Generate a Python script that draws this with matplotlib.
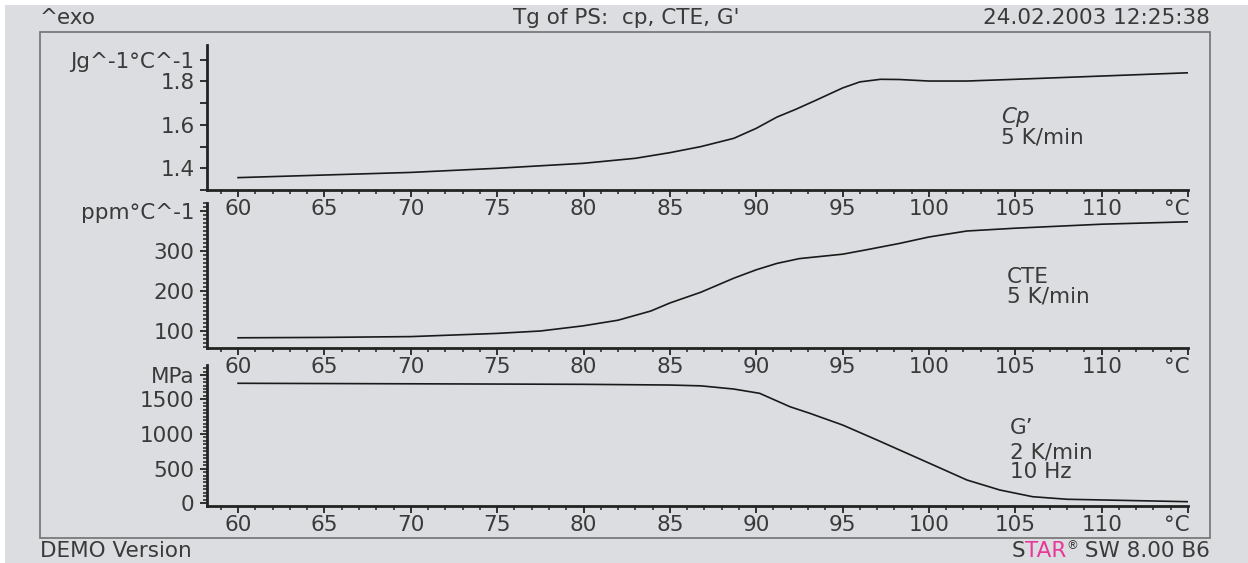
import numpy as np
import matplotlib.pyplot as plt
from matplotlib.patches import Rectangle
from matplotlib.ticker import MultipleLocator, FixedLocator

plt.rcParams['font.family'] = ['DejaVu Sans']

W, H = 1248, 563
bg = '#dcdde0'
tc = '#3a3a3a'
fs = 15.5

# Cp, 5 K/min
t_cp = [60, 65, 70, 75, 80, 83, 85, 86.8, 88.7, 90, 91.2, 92.3, 93.5, 95, 96,
        97.2, 98.3, 100, 102.2, 105, 110, 115]
cp = [1.357, 1.369, 1.381, 1.400, 1.423, 1.446, 1.472, 1.500, 1.538, 1.584, 1.636,
      1.672, 1.715, 1.770, 1.798, 1.810, 1.809, 1.802, 1.802, 1.810, 1.825, 1.840]

# CTE, 5 K/min
t_cte = [60, 65, 70, 75, 77.5, 80, 82, 83.9, 85, 86.8, 88.7, 90, 91.2, 92.5, 95,
         96.5, 98.3, 100, 102.2, 105, 110, 115]
cte = [83, 84, 86, 94, 100, 113, 127, 150, 170, 197, 232, 253, 269, 281, 292,
       304, 319, 335, 350, 357, 367, 373]

# G', 2 K/min, 10 Hz
t_g = [60, 75, 80, 85, 86.8, 88.7, 90.2, 91.95, 93.1, 95, 97, 98.3, 100.25, 102.2,
       104.1, 106, 108, 115]
g = [1732, 1721, 1717, 1707, 1695, 1649, 1587, 1394, 1299, 1130, 913, 769, 553,
     336, 192, 95, 58, 23]

xmaj = list(range(60, 116, 5))
xlab = [str(v) for v in range(60, 111, 5)] + ['']


def fx(x):
    return x / W


def fy(y):
    return 1 - y / H


def panel(top, bottom, ylim):
    ax = fig.add_axes([fx(207), fy(bottom), (1188 - 207) / W, (bottom - top) / H])
    ax.set_facecolor('none')
    ax.spines['top'].set_visible(False)
    ax.spines['right'].set_visible(False)
    for s in ['left', 'bottom']:
        ax.spines[s].set_linewidth(2)
        ax.spines[s].set_color('#222222')
    ax.set_xlim(58.2, 115)
    ax.set_ylim(*ylim)
    ax.xaxis.set_major_locator(FixedLocator(xmaj))
    ax.xaxis.set_minor_locator(MultipleLocator(1))
    ax.set_xticklabels(xlab)
    ax.tick_params(which='major', length=5, width=1.3, color='#222222',
                   labelsize=fs, labelcolor=tc)
    ax.tick_params(which='minor', length=3, width=1.1, color='#222222')
    ax.tick_params(axis='x', which='major', pad=1.5)
    ax.tick_params(axis='y', which='major', pad=4)
    ax.annotate('°C', xy=(115, 0), xycoords=('data', 'axes fraction'),
                xytext=(1, -6.5), textcoords='offset points', ha='right', va='top',
                fontsize=fs, color=tc)
    return ax


fig = plt.figure(figsize=(W / 100, H / 100), dpi=100)
fig.patch.set_facecolor('white')
fig.patches.append(Rectangle((fx(5), 0), 1 - fx(5), fy(5), transform=fig.transFigure,
                             facecolor=bg, edgecolor='none', zorder=-10))
fig.patches.append(Rectangle((fx(40), fy(538)), (1210 - 40) / W, (538 - 32) / H,
                             transform=fig.transFigure, fill=False,
                             edgecolor='#7a7a7a', lw=1.3))

# top: heat capacity
ax1 = panel(45, 190, (1.3, 1.968))
ax1.set_yticks([1.3, 1.4, 1.5, 1.6, 1.7, 1.8, 1.9])
ax1.set_yticklabels(['', '1.4', '', '1.6', '', '1.8', 'Jg^-1°C^-1'])
ax1.plot(t_cp, cp, color='#1a1a1a', lw=1.2)
ax1.text(104.2, 1.636, 'Cp', style='italic', fontsize=fs, color=tc, va='center')
ax1.text(104.2, 1.54, '5 K/min', fontsize=fs, color=tc, va='center')

# middle: expansion coefficient
ax2 = panel(203, 348, (57.5, 420))
ax2.set_yticks([100, 200, 300, 400])
ax2.set_yticklabels(['100', '200', '300', 'ppm°C^-1'])
ax2.yaxis.set_minor_locator(MultipleLocator(10))
ax2.plot(t_cte, cte, color='#1a1a1a', lw=1.2)
ax2.text(104.5, 235, 'CTE', fontsize=fs, color=tc, va='center')
ax2.text(104.5, 185, '5 K/min', fontsize=fs, color=tc, va='center')

# bottom: storage modulus
ax3 = panel(365, 505.5, (-32, 1996))
ax3.set_yticks([0, 500, 1000, 1500, 1850])
ax3.set_yticklabels(['0', '500', '1000', '1500', 'MPa'])
ax3.yaxis.set_minor_locator(MultipleLocator(50))
ax3.plot(t_g, g, color='#1a1a1a', lw=1.2)
ax3.text(104.7, 1087, 'G’', fontsize=fs, color=tc, va='center')
ax3.text(104.7, 740, '2 K/min', fontsize=fs, color=tc, va='center')
ax3.text(104.7, 452, '10 Hz', fontsize=fs, color=tc, va='center')

# header and footer
fig.text(fx(40), fy(18), '^exo', fontsize=fs, color=tc, va='center', ha='left')
fig.text(fx(626), fy(18), "Tg of PS:  cp, CTE, G'", fontsize=fs, color=tc,
         va='center', ha='center')
fig.text(fx(1210), fy(18), '24.02.2003 12:25:38', fontsize=fs, color=tc,
         va='center', ha='right')
fig.text(fx(40), fy(551), 'DEMO Version', fontsize=fs, color=tc, va='center', ha='left')

r = fig.canvas.get_renderer()
xr = 1210
parts = [(' SW 8.00 B6', tc, fs, 551), ('®', tc, fs * 0.55, 546),
         ('TAR', '#e8389a', fs, 551), ('S', tc, fs, 551)]
for s, c, size, yy in parts:
    t = fig.text(fx(xr), fy(yy), s, fontsize=size, color=c, va='center', ha='right')
    xr -= t.get_window_extent(r).width

fig.savefig('out.png', dpi=100, facecolor=fig.get_facecolor())
